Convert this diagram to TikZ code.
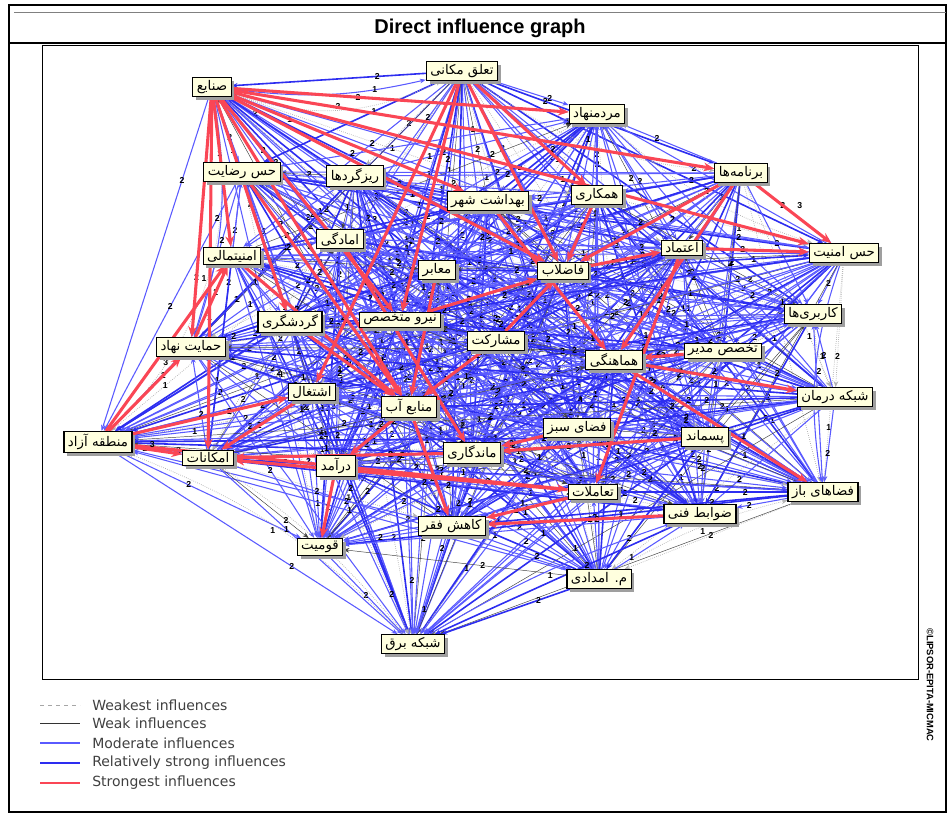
\documentclass[tikz,border=0pt]{standalone}
\usepackage{fontspec}
\setmainfont{Liberation Sans}
\newfontfamily\legendfont{DejaVu Sans}
\newfontfamily\fafont[Script=Arabic]{DejaVu Sans}
\TeXXeTstate=1
\usetikzlibrary{arrows.meta,shadows,backgrounds}

\definecolor{boxfill}{RGB}{255,255,222}
\definecolor{midblue}{RGB}{90,90,255}
\definecolor{strongblue}{RGB}{45,45,240}
\definecolor{strongred}{RGB}{250,70,85}
\newcommand{\fa}[1]{{\fafont\beginR#1\endR}}

\begin{document}
\begin{tikzpicture}[x=0.75pt,y=-0.75pt,
    var/.style={
        draw,
        line width=0.8pt,
        fill=boxfill,
        inner xsep=3pt,
        inner ysep=2pt,
        font=\fontsize{10}{11}\selectfont,
        drop shadow={shadow xshift=2.5pt,shadow yshift=-2.5pt,fill=gray!75,opacity=1}
    },
    weakest/.style={gray!60,densely dotted,line width=0.55pt},
    weak/.style={black!75,line width=0.35pt},
    moderate/.style={midblue,line width=0.8pt},
    relstrong/.style={strongblue,line width=1.2pt},
    strongest/.style={strongred,line width=2.3pt,-{Stealth[length=8pt,width=6.5pt]}},
    kind0/.style={weakest},
    kind1/.style={weak},
    kind2/.style={moderate},
    kind3/.style={moderate},
    kind4/.style={moderate},
    kind5/.style={moderate},
    kind6/.style={moderate},
    kind7/.style={moderate},
    kind8/.style={relstrong},
    kind9/.style={relstrong},
    lg1/.style={gray!70,dashed},
    lg2/.style={black!80,line width=0.6pt},
    lg3/.style={midblue,line width=0.8pt},
    lg4/.style={strongblue,line width=1.6pt},
    lg5/.style={strongred,line width=1.8pt},
    val/.style={font=\bfseries\fontsize{6.5}{7}\selectfont,inner sep=0.5pt,text=black},
    legend/.style={font=\legendfont\fontsize{10.5}{12}\selectfont,anchor=west,inner sep=0pt,text=black!75},
    >={Stealth[length=4.5pt,width=3.5pt]}
    ]
\useasboundingbox (0,0) rectangle (950,814);
% frames
\draw[line width=1.4pt] (9,5) rectangle (946,812);
\draw[gray,line width=0.6pt] (14,12) -- (946,12);
\draw[line width=0.8pt] (9,43) -- (946,43);
\draw[line width=0.7pt] (42,45) rectangle (918,679);
\node[font=\bfseries\fontsize{15}{18}\selectfont] (title) at (480,28) {Direct influence graph};
\node[rotate=-90,font=\bfseries\fontsize{7}{8}\selectfont] (copyr) at (930,685) {©LIPSOR-EPITA-MICMAC};

% variables
\node[var] (n1) at (212,87) {\fa{صنایع}};
\node[var] (n2) at (462,71) {\fa{تعلق مکانی}};
\node[var] (n3) at (597,114) {\fa{مردمنهاد}};
\node[var] (n4) at (741,173) {\fa{برنامه‌ها}};
\node[var] (n5) at (242,172) {\fa{حس رضایت}};
\node[var] (n6) at (355,176) {\fa{ریزگردها}};
\node[var] (n7) at (488,201) {\fa{بهداشت شهر}};
\node[var] (n8) at (597,195) {\fa{همکاری}};
\node[var] (n9) at (340,239) {\fa{امادگی}};
\node[var] (n10) at (232,256) {\fa{امنیتمالی}};
\node[var] (n11) at (437,270) {\fa{معابر}};
\node[var] (n12) at (563,271) {\fa{فاضلاب}};
\node[var] (n13) at (682,248) {\fa{اعتماد}};
\node[var] (n14) at (844,253) {\fa{حس امنیت}};
\node[var] (n15) at (813,314) {\fa{کاربری‌ها}};
\node[var] (n16) at (290,322) {\fa{گردشگری}};
\node[var] (n17) at (400,320) {\fa{نیرو متخصص}};
\node[var] (n18) at (496,341) {\fa{مشارکت}};
\node[var] (n19) at (614,360) {\fa{هماهنگی}};
\node[var] (n20) at (723,351) {\fa{تخصص مدیر}};
\node[var] (n21) at (191,347) {\fa{حمایت نهاد}};
\node[var] (n22) at (835,397) {\fa{شبکه درمان}};
\node[var] (n23) at (312,392) {\fa{اشتغال}};
\node[var] (n24) at (409,407) {\fa{منابع آب}};
\node[var] (n25) at (577,428) {\fa{فضای سبز}};
\node[var] (n26) at (705,437) {\fa{پسماند}};
\node[var] (n27) at (98,442) {\fa{منطقه آزاد}};
\node[var] (n28) at (208,458) {\fa{امکانات}};
\node[var] (n29) at (336,466) {\fa{درآمد}};
\node[var] (n30) at (472,453) {\fa{ماندگاری}};
\node[var] (n31) at (593,492) {\fa{تعاملات}};
\node[var] (n32) at (823,492) {\fa{فضاهای باز}};
\node[var] (n33) at (700,514) {\fa{ضوابط فنی}};
\node[var] (n34) at (452,526) {\fa{کاهش فقر}};
\node[var] (n35) at (320,547) {\fa{قومیت}};
\node[var] (n36) at (599,579) {\fa{م. امدادی}};
\node[var] (n37) at (413,644) {\fa{شبکه برق}};

\begin{pgfonlayer}{background}
% all direct influences
\foreach \i in {1,...,36}{
    \pgfmathtruncatemacro\jfirst{\i+1}
    \foreach \j in {\jfirst,...,37}{
        \pgfmathtruncatemacro\kind{mod(\i*7+\j*11,10)}
        \pgfmathtruncatemacro\dir{mod(\i*\j+\i,2)}
        \pgfmathtruncatemacro\v{mod(\i+2*\j,3)==0 ? 1 : 2}
        \pgfmathsetmacro\where{0.25+0.125*mod(\i*3+\j,5)}
        \ifnum\dir=0
            \draw[kind\kind,->] (n\i) -- node[val,pos=\where] {\v} (n\j);
        \else
            \draw[kind\kind,->] (n\j) -- node[val,pos=\where] {\v} (n\i);
        \fi
    }
}
% outer arcs
\draw[moderate,->] (n1) to[bend right=10] node[val,pos=0.75] {1} (n2);
\draw[weakest,->] (n1) to[bend right=22] node[val,above] {2} (n2);
\draw[weakest,->] (n2) to[bend right=15] node[val,above] {1} (n4);
\draw[weakest,->] (n3) to[bend right=12] node[val,above right] {2} (n14);
\draw[weakest,->] (n1) to[bend left=28] node[val,left] {1} (n27);
\draw[moderate,->] (n1) to[bend left=14] node[val,left] {2} (n21);
\draw[weakest,->] (n37) to[bend right=12] node[val,below left] {1} (n27);
\draw[weakest,->] (n37) to[bend right=8] node[val,below left] {2} (n28);
\draw[moderate,->] (n14) to[bend right=14] node[val,right] {2} (n32);
\draw[weakest,->] (n15) to[bend right=10] node[val,right] {1} (n22);
\draw[weakest,->] (n36) to[bend left=8] node[val,below right] {1} (n32);
\draw[moderate,->] (n37) to[bend left=6] node[val,below right] {1} (n33);

% strongest influences
\foreach \a/\b in {1/4,1/3,1/14,1/12,1/7,1/10,1/21,1/28,1/24,1/16,1/17,
    2/12,2/17,2/8,2/23,4/12,4/19,8/12,12/13,13/14,17/12,20/19,19/32,19/22,
    26/30,30/28,31/28,31/34,24/34,24/29,23/28,16/24,10/24,5/24,11/24,18/24,
    27/10,27/23,27/31,21/10,33/34,29/35,25/30,13/31,18/12,9/30,7/19}
    \draw[strongest] (n\a) -- (n\b);
\draw[strongest] (n4) -- node[val,above right=2pt] {3} (n14);
\draw[strongest] (n27) -- node[val,pos=0.85,above left] {3} (n21);
\draw[strongest] (n27) -- node[val,pos=0.4,above] {3} (n28);
\end{pgfonlayer}

% legend
\foreach \y/\t [count=\k] in {705/Weakest influences,
    723/Weak influences,
    743/Moderate influences,
    763/Relatively strong influences,
    783/Strongest influences}{
    \coordinate (la\k) at (40,\y);
    \coordinate (lb\k) at (80,\y);
    \draw[lg\k] (la\k) -- (lb\k);
    \node[legend] (leg\k) at (92,\y) {\t};
}
\end{tikzpicture}
\end{document}
